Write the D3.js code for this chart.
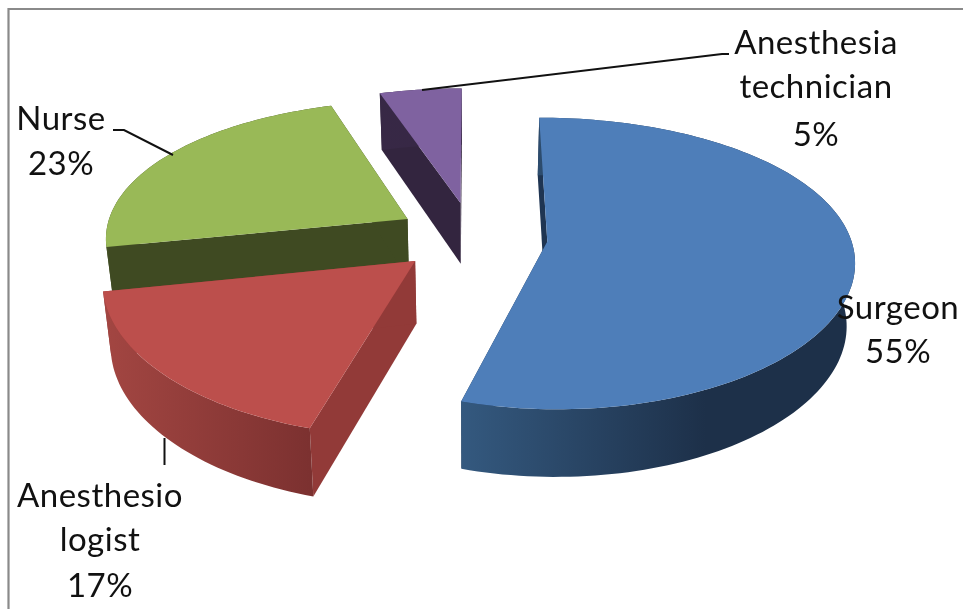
<!DOCTYPE html>
<html><head><meta charset="utf-8">
<script src="https://cdnjs.cloudflare.com/ajax/libs/d3/7.8.5/d3.min.js"></script>
<style>html,body{margin:0;padding:0;background:#fff}svg{display:block;filter:blur(0.45px)}text{font-family:Lato,"Open Sans",sans-serif;fill:#111}</style>
</head><body><svg id="c" width="963" height="609"></svg>
<script>
const categories = ["Surgeon","Anesthesiologist","Nurse","Anesthesia technician"];
const values = [54.5,17.3,23.2,5];
const topColors = ["#4E7EB9","#BC4F4C","#99B957","#7F62A0"];
const sideColors = ["#1F3552","#923A38","#3F4A22","#33253F"];
const wallStart = ["#34597F","#A34642","#4A5729","#3A2A4A"];
const wallEnd = ["#1D3049","#7C3130","#3F4A22","#33253F"];
const drawOrder = [3,2,1,0];

const svg = d3.select("#c");
const W=963,H=609;
const xc=472,yc=236.5,Rx=303,Ry=141,kx=0.12,ky=0.15,explode=0.25,depth=62;
const xs=d3.scaleLinear().domain([0,1]).range([0,Rx]);
const ys=d3.scaleLinear().domain([0,1]).range([0,Ry]);
function proj(U,Z,low){
  const x=xs(U)/(1-kx*Z), y=ys(Z)/(1-ky*Z);
  return low ? [xc+x*0.978, yc+y+depth/(1-0.08*Z)] : [xc+x, yc+y];
}
const pie=d3.pie().sort(null).startAngle(0).endAngle(2*Math.PI);
const arcs=pie(values);
const line=d3.line();

svg.append("rect").attr("width",W).attr("height",H).attr("fill","#fff");
svg.append("path").attr("d","M"+W+",9H8.5V"+H).attr("fill","none").attr("stroke","#8a8a8a").attr("stroke-width",2.2);

const defs=svg.append("defs");
function slice(i){
  const a=arcs[i], mid=(a.startAngle+a.endAngle)/2;
  const ox=explode*Math.sin(mid), oz=-explode*Math.cos(mid);
  const n=Math.max(8,Math.round((a.endAngle-a.startAngle)*40));
  const angs=d3.range(n+1).map(j=>a.startAngle+(a.endAngle-a.startAngle)*j/n);
  const rim=angs.map(t=>[ox+Math.sin(t),oz-Math.cos(t)]);
  const top=rim.map(p=>proj(p[0],p[1],false)), bot=rim.map(p=>proj(p[0],p[1],true));
  const at=proj(ox,oz,false), ab=proj(ox,oz,true);
  const g=svg.append("g");
  // radial walls
  g.append("path").attr("d",line([at,top[0],bot[0],ab])+"Z").attr("fill",sideColors[i]);
  g.append("path").attr("d",line([at,top[n],bot[n],ab])+"Z").attr("fill",sideColors[i]);
  // outer wall
  const xExt=d3.extent(top.filter((p,k)=>rim[k][1]>oz-0.02),p=>p[0]);
  const gid="w"+i;
  const lg=defs.append("linearGradient").attr("id",gid).attr("gradientUnits","userSpaceOnUse")
    .attr("x1",xExt[0]).attr("x2",xExt[0]+(xExt[1]-xExt[0])*(i===0?0.62:1)).attr("y1",0).attr("y2",0);
  lg.append("stop").attr("offset",0).attr("stop-color",wallStart[i]);
  lg.append("stop").attr("offset",1).attr("stop-color",wallEnd[i]);
  g.append("path").attr("d",line(top.concat(bot.slice().reverse()))+"Z").attr("fill","url(#"+gid+")");
  // top face
  g.append("path").attr("d",line([at].concat(top))+"Z").attr("fill",topColors[i]);
}
drawOrder.forEach(slice);

// leader lines
const leaders=[[[113,130],[124,130],[173,155]],[[422,90],[722,54],[729,54]],[[164.5,438],[164.5,465]]];
leaders.forEach(l=>svg.append("path").attr("d",line(l)).attr("fill","none").attr("stroke","#111").attr("stroke-width",2));

// labels
const labelLines=[["Surgeon"],["Anesthesio","logist"],["Nurse"],["Anesthesia","technician"]];
const labelX=[898,100,61,816];
const labelY=[[319,363],[507,551,597],[130,175],[54,98,146]];
labelLines.forEach((ls,i)=>ls.concat([Math.round(values[i])+"%"]).forEach((t,j)=>{
  svg.append("text").attr("x",labelX[i]).attr("y",labelY[i][j]).attr("text-anchor","middle")
    .attr("font-size",33).attr("letter-spacing",0.5).text(t);
}));
</script></body></html>
